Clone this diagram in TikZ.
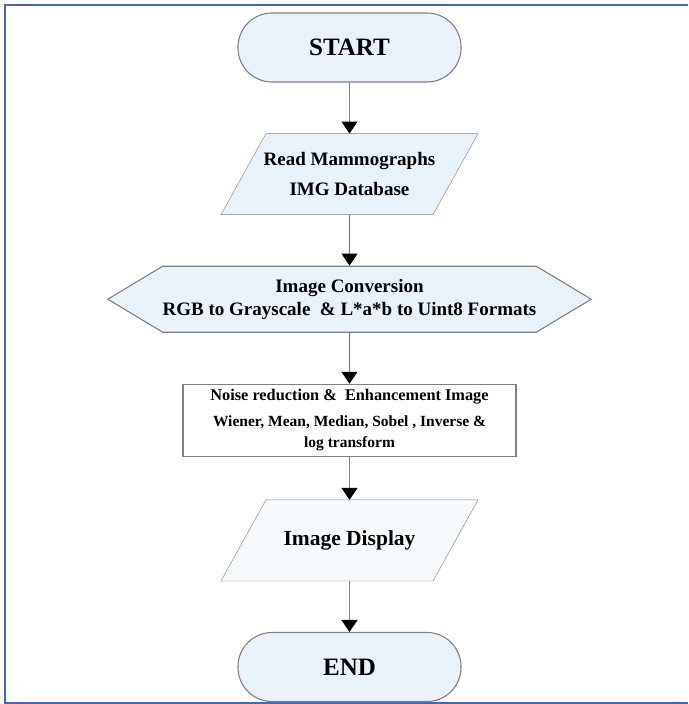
\documentclass[tikz,border=0pt]{standalone}
\usepackage{fontspec}
\setmainfont{Liberation Serif}
\usetikzlibrary{positioning}
\usetikzlibrary{backgrounds}
\usetikzlibrary{shapes.symbols}
\usetikzlibrary{arrows.meta}
\definecolor{flowfill}{HTML}{EAF2F9}
\definecolor{flowline}{HTML}{808080}
\definecolor{frameblue}{HTML}{4468B0}

\begin{document}
\begin{tikzpicture}[x=1pt,y=1pt,node distance=51pt,line width=1.1pt,
  terminal/.style={draw=flowline,fill=flowfill,rectangle,rounded corners=34pt,minimum width=223pt,minimum height=69pt,font=\bfseries\fontsize{25}{30}\selectfont},
  io/.style={rectangle,minimum width=211pt,minimum height=80pt,inner sep=0pt,align=center},
  convert/.style={draw=flowline,fill=flowfill,signal,signal to=west and east,signal pointer angle=62,minimum width=466pt,minimum height=66pt,inner sep=0pt,align=center,font=\bfseries\fontsize{19}{23}\selectfont},
  process/.style={draw=flowline,fill=white,rectangle,minimum width=333pt,minimum height=72pt,inner sep=0pt,align=center,font=\bfseries\fontsize{15.5}{20}\selectfont},
  flow/.style={draw=flowline,-{Triangle[width=16pt,length=12pt,black]}}]
  \useasboundingbox (0,0) rectangle (688,-704);
  % frame, open on the right
  \draw[frameblue,line width=2.4pt] (688,-5) -- (5,-5) -- (5,-703) -- (688,-703);
  \node[terminal](start) at (349.5,-47.5) {START};
  \node[io,below= of start,font=\bfseries\fontsize{19}{30}\selectfont](read) {Read Mammographs\\IMG Database};
  \node[convert,below= of read](conv) {Image Conversion\\RGB to Grayscale\ \ \& L*a*b to Uint8 Formats};
  \node[process,below= of conv](noise) {{\fontsize{16.3}{20}\selectfont Noise reduction \&\ \ Enhancement Image}\\[6pt]
    Wiener, Mean, Median, Sobel , Inverse \&\\[1pt]log transform};
  \node[io,below=43pt of noise,font=\bfseries\fontsize{21.5}{26}\selectfont](disp) {Image Display};
  \node[terminal,below= of disp](end) {END};
  % slanted data boxes behind the io nodes
  \begin{scope}[on background layer]
    \foreach \n/\c in {read/flowfill,disp/flowfill!40}
      \draw[draw=flowline,fill=\c] ([xshift=22.5pt]\n.north west) -- ([xshift=22.5pt]\n.north east)
        -- ([xshift=-22.5pt]\n.south east) -- ([xshift=-22.5pt]\n.south west) -- cycle;
  \end{scope}
  \draw[flow] (start)--(read);
  \draw[flow] (read)--(conv);
  \draw[flow] (conv)--(noise);
  \draw[flow] (noise)--(disp);
  \draw[flow] (disp)--(end);
\end{tikzpicture}
\end{document}
